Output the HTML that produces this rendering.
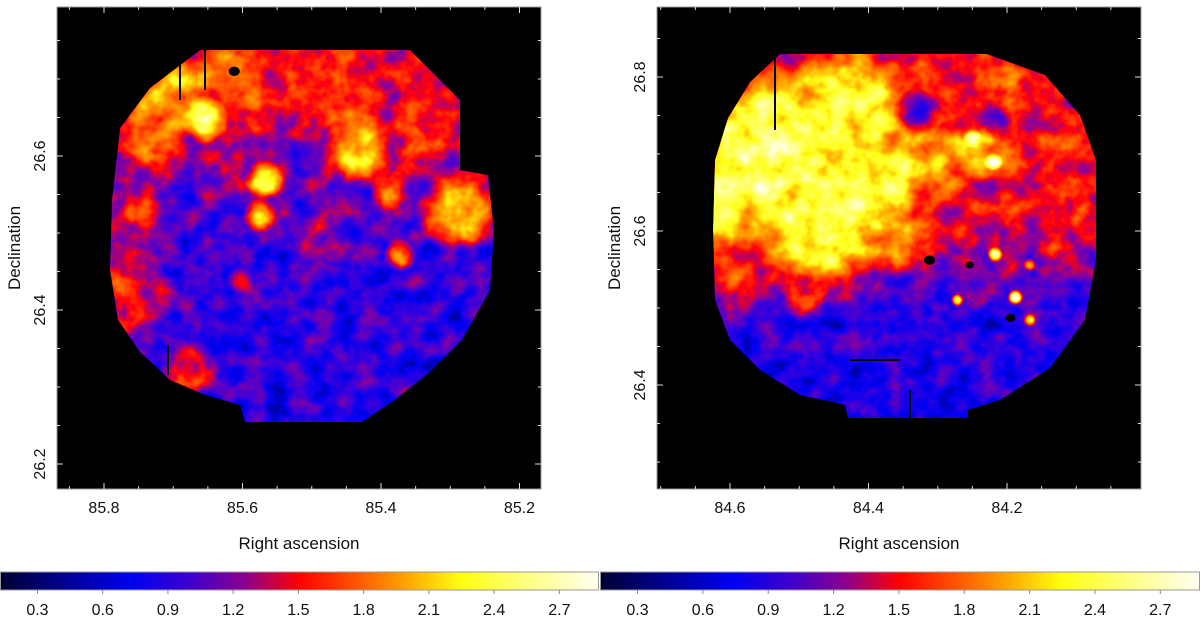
<!DOCTYPE html>
<html><head><meta charset="utf-8">
<style>
html,body{margin:0;padding:0;background:#fff;width:1200px;height:620px;overflow:hidden}
svg{display:block;font-family:"Liberation Sans",sans-serif}
</style></head>
<body>
<svg id="root" width="1200" height="620" viewBox="0 0 1200 620">
<defs>
<filter id="cmap" filterUnits="userSpaceOnUse" x="0" y="0" width="1200" height="500" color-interpolation-filters="sRGB">
  <feTurbulence type="fractalNoise" baseFrequency="0.045" numOctaves="3" seed="11" result="n"/>
  <feColorMatrix in="n" type="matrix" values="1 0 0 0 0 1 0 0 0 0 1 0 0 0 0 0 0 0 0 1" result="ng"/>
  <feComposite in="SourceGraphic" in2="ng" operator="arithmetic" k1="0" k2="1" k3="0.42" k4="-0.21" result="sum"/>
  <feColorMatrix in="sum" type="matrix" values="1 0 0 0 0 1 0 0 0 0 1 0 0 0 0 0 0 0 0 1"/>
  <feComponentTransfer>
    <feFuncR type="table" tableValues="0 0 0 0.25 0.55 1 1 1 1 1 1"/>
    <feFuncG type="table" tableValues="0 0 0 0 0 0 0.35 0.65 1 1 1"/>
    <feFuncB type="table" tableValues="0.2 0.55 0.95 0.85 0.6 0.05 0 0 0.1 0.5 0.95"/>
  </feComponentTransfer>
  <feComposite in2="SourceAlpha" operator="in"/>
</filter>
<linearGradient id="cbgrad" x1="0" x2="1" y1="0" y2="0">
  <stop offset="0" stop-color="#000033"/>
  <stop offset="0.1" stop-color="#00008c"/>
  <stop offset="0.22" stop-color="#0000f0"/>
  <stop offset="0.32" stop-color="#4000cc"/>
  <stop offset="0.41" stop-color="#8c008c"/>
  <stop offset="0.5" stop-color="#ff0000"/>
  <stop offset="0.6" stop-color="#ff5a00"/>
  <stop offset="0.68" stop-color="#ffa600"/>
  <stop offset="0.77" stop-color="#ffff10"/>
  <stop offset="0.88" stop-color="#ffff80"/>
  <stop offset="1" stop-color="#fffff2"/>
</linearGradient>
<clipPath id="clipL"><polygon points="200,50 410,50 460,100 460,170 488,175 494,230 490,290 462,340 430,372 392,402 362,422 245,422 240,405 205,395 170,380 140,352 118,320 110,270 112,200 120,128 150,88"/></clipPath>
<clipPath id="clipR"><polygon points="780,54 987,54 1045,75 1080,115 1096,160 1096,260 1085,320 1050,368 1000,400 968,410 968,418 848,418 845,405 800,395 760,370 730,340 715,300 713,230 715,160 728,118 750,82"/></clipPath>
</defs>
</svg>
<script>
// ---- data ----
const cbTicks = [0.3,0.6,0.9,1.2,1.5,1.8,2.1,2.4,2.7];
const leftRaTicks = [85.8,85.6,85.4,85.2];
const leftDecTicks = [26.2,26.4,26.6];
const rightRaTicks = [84.6,84.4,84.2];
const rightDecTicks = [26.4,26.6,26.8];
// large-scale background level vs declination: [dec, level]
const leftProfile = [[26.75,0.50],[26.62,0.45],[26.55,0.35],[26.48,0.28],[26.25,0.26]];
const rightProfile = [[26.85,0.52],[26.65,0.50],[26.56,0.40],[26.50,0.28],[26.35,0.22]];
// blobs: [ra, dec, radius_deg, level(0-1)]
const leftBlobs = [
 [85.705,26.686,0.08,0.72],[85.618,26.705,0.06,0.62],[85.517,26.699,0.06,0.55],
 [85.344,26.634,0.06,0.55],[85.654,26.647,0.035,0.95],[85.568,26.569,0.03,0.85],
 [85.575,26.523,0.026,0.85],[85.430,26.608,0.055,0.76],[85.387,26.556,0.03,0.72],
 [85.286,26.530,0.065,0.78],[85.373,26.471,0.025,0.70],[85.770,26.420,0.08,0.56],
 [85.760,26.520,0.06,0.52],[85.676,26.322,0.045,0.60],[85.604,26.439,0.022,0.60],
 [85.488,26.491,0.05,0.45],[85.730,26.620,0.06,0.62],[85.45,26.66,0.05,0.6],
 [85.52,26.60,0.04,0.3],[85.68,26.55,0.04,0.3]
];
const rightBlobs = [
 [84.542,26.705,0.13,0.92],[84.427,26.757,0.10,0.86],[84.470,26.601,0.11,0.88],
 [84.326,26.692,0.08,0.72],[84.239,26.705,0.05,0.74],[84.355,26.601,0.07,0.66],
 [84.225,26.783,0.05,0.55],[84.123,26.705,0.07,0.52],[84.123,26.601,0.06,0.50],
 [84.600,26.536,0.06,0.58],[84.499,26.510,0.04,0.50],[84.620,26.640,0.09,0.88],
 [84.40,26.66,0.08,0.86],[84.33,26.755,0.035,0.3],[84.22,26.745,0.03,0.32],
 [84.217,26.569,0.012,1.0],[84.188,26.514,0.012,1.0],[84.272,26.510,0.01,0.9],
 [84.167,26.556,0.01,0.8],[84.167,26.484,0.01,0.75],[84.25,26.72,0.014,0.98],[84.22,26.69,0.014,0.98]
];
const leftHoles = [[85.612,26.710,0.008]];
const rightHoles = [[84.312,26.562,0.008],[84.254,26.556,0.006],[84.195,26.487,0.007]];

const NS='http://www.w3.org/2000/svg';
const root=document.getElementById('root');
function mk(tag,attrs,parent){const e=document.createElementNS(NS,tag);for(const k in attrs)e.setAttribute(k,attrs[k]);(parent||root).appendChild(e);return e;}
const gray=v=>{const c=Math.round(v*255);return `rgb(${c},${c},${c})`;};

function panel(cfg){
  const {x0,y0,w,h,ra0,x_ra0,dec0,y_dec0,raTicks,decTicks,blobs,holes,clip,name,profile}=cfg;
  const pxPerDeg=138.5/0.2, pyPerDeg=154/0.2;
  const sx=ra=>x_ra0-(ra-ra0)*pxPerDeg;
  const sy=d=>y_dec0-(d-dec0)*pyPerDeg;
  const defs=root.querySelector('defs');
  const g=mk('g',{});
  
  
  const bg=mk('rect',{x:x0,y:y0,width:w,height:h,fill:'#000',stroke:'#999','stroke-width':1},g);
  
  
  const img=mk('g',{filter:'url(#cmap)'},g);
  const cg=mk('g',{'clip-path':'url(#'+clip+')'},img);
  const lg=mk('linearGradient',{id:name+'prof',gradientUnits:'userSpaceOnUse',x1:0,x2:0,y1:y0,y2:y0+h},defs);
  profile.forEach(p=>{mk('stop',{offset:Math.min(1,Math.max(0,(sy(p[0])-y0)/h)),'stop-color':gray(p[1])},lg);});
  mk('rect',{x:x0,y:y0,width:w,height:h,fill:`url(#${name}prof)`},cg);
  blobs.forEach((b,i)=>{
    const gid=name+'g'+i;
    const rg=mk('radialGradient',{id:gid},defs);
    mk('stop',{offset:'0','stop-color':gray(b[3]),'stop-opacity':1},rg);
    mk('stop',{offset:'0.45','stop-color':gray(b[3]),'stop-opacity':0.8},rg);
    mk('stop',{offset:'1','stop-color':gray(b[3]),'stop-opacity':0},rg);
    const c=mk('circle',{cx:sx(b[0]),cy:sy(b[1]),r:b[2]*pxPerDeg,fill:`url(#${gid})`},cg);
    
    
  });
  holes.forEach(hh=>{
    const e=mk('ellipse',{cx:sx(hh[0]),cy:sy(hh[1]),rx:hh[2]*pxPerDeg,ry:hh[2]*pxPerDeg*0.85,fill:'#000'},g);
    
    
  });
  const minor=0.05;
  const raMin=ra0-(x0+w-x_ra0)/pxPerDeg, raMax=ra0+(x_ra0-x0)/pxPerDeg;
  for(let r=Math.ceil(raMin/minor)*minor;r<=raMax;r+=minor){
    const x=sx(r);const major=Math.abs(r/0.2-Math.round(r/0.2))<1e-6;const L=major?6:3;
    mk('line',{x1:x,x2:x,y1:y0+h,y2:y0+h-L,stroke:'#ddd','stroke-width':1},g);
    mk('line',{x1:x,x2:x,y1:y0,y2:y0+L,stroke:'#ddd','stroke-width':1},g);
  }
  const dMin=dec0-(y0+h-y_dec0)/pyPerDeg, dMax=dec0+(y_dec0-y0)/pyPerDeg;
  for(let d=Math.ceil(dMin/minor)*minor;d<=dMax;d+=minor){
    const y=sy(d);const major=Math.abs(d/0.2-Math.round(d/0.2))<1e-6;const L=major?6:3;
    mk('line',{x1:x0,x2:x0+L,y1:y,y2:y,stroke:'#ddd','stroke-width':1},g);
    mk('line',{x1:x0+w,x2:x0+w-L,y1:y,y2:y,stroke:'#ddd','stroke-width':1},g);
  }
  raTicks.forEach(r=>{
    const t=mk('text',{x:sx(r),y:y0+h+24,'text-anchor':'middle','font-size':16,fill:'#111'},g);
    t.textContent=r.toFixed(1);
    
    
  });
  decTicks.forEach(d=>{
    const y=sy(d);
    const t=mk('text',{x:0,y:0,'text-anchor':'middle','font-size':16,fill:'#111',transform:`translate(${x0-12},${y}) rotate(-90)`},g);
    t.textContent=d.toFixed(1);
    
    
  });
  const xt=mk('text',{x:x0+w/2,y:549,'text-anchor':'middle','font-size':17,fill:'#111'},g);
  xt.textContent='Right ascension';
  
  
  const yt=mk('text',{x:0,y:0,'text-anchor':'middle','font-size':17,fill:'#111',transform:`translate(${x0-37},${y0+h/2}) rotate(-90)`},g);
  yt.textContent='Declination';
  
  
}
panel({x0:57,y0:7,w:484,h:482,ra0:85.8,x_ra0:104,dec0:26.6,y_dec0:156,raTicks:leftRaTicks,decTicks:leftDecTicks,blobs:leftBlobs,holes:leftHoles,clip:'clipL',name:'left',profile:leftProfile});
panel({x0:657,y0:7,w:484,h:482,ra0:84.6,x_ra0:730,dec0:26.8,y_dec0:77,raTicks:rightRaTicks,decTicks:rightDecTicks,blobs:rightBlobs,holes:rightHoles,clip:'clipR',name:'right',profile:rightProfile});

[[180,55,180,100],[205,50,205,90],[168,345,168,375],[775,58,775,130],[910,390,910,420],[850,360,900,360]].forEach(s=>{
  const l=mk('line',{x1:s[0],y1:s[1],x2:s[2],y2:s[3],stroke:'#000','stroke-width':2});
  
  
});

function colorbar(x0,w,name){
  const vmin=0.13, vmax=2.88;
  const sc=v=>x0+(v-vmin)/(vmax-vmin)*w;
  const r=mk('rect',{x:x0,y:572,width:w,height:18,fill:'url(#cbgrad)',stroke:'#999','stroke-width':1});
  
  
  cbTicks.forEach(v=>{
    mk('line',{x1:sc(v),x2:sc(v),y1:590,y2:594,stroke:'#888','stroke-width':1});
    const t=mk('text',{x:sc(v),y:615,'text-anchor':'middle','font-size':16,fill:'#111'});
    t.textContent=v.toFixed(1);
    
    
  });
}
colorbar(0.5,598,'left-colorbar');
colorbar(600.5,599,'right-colorbar');
</script>
</body></html>
